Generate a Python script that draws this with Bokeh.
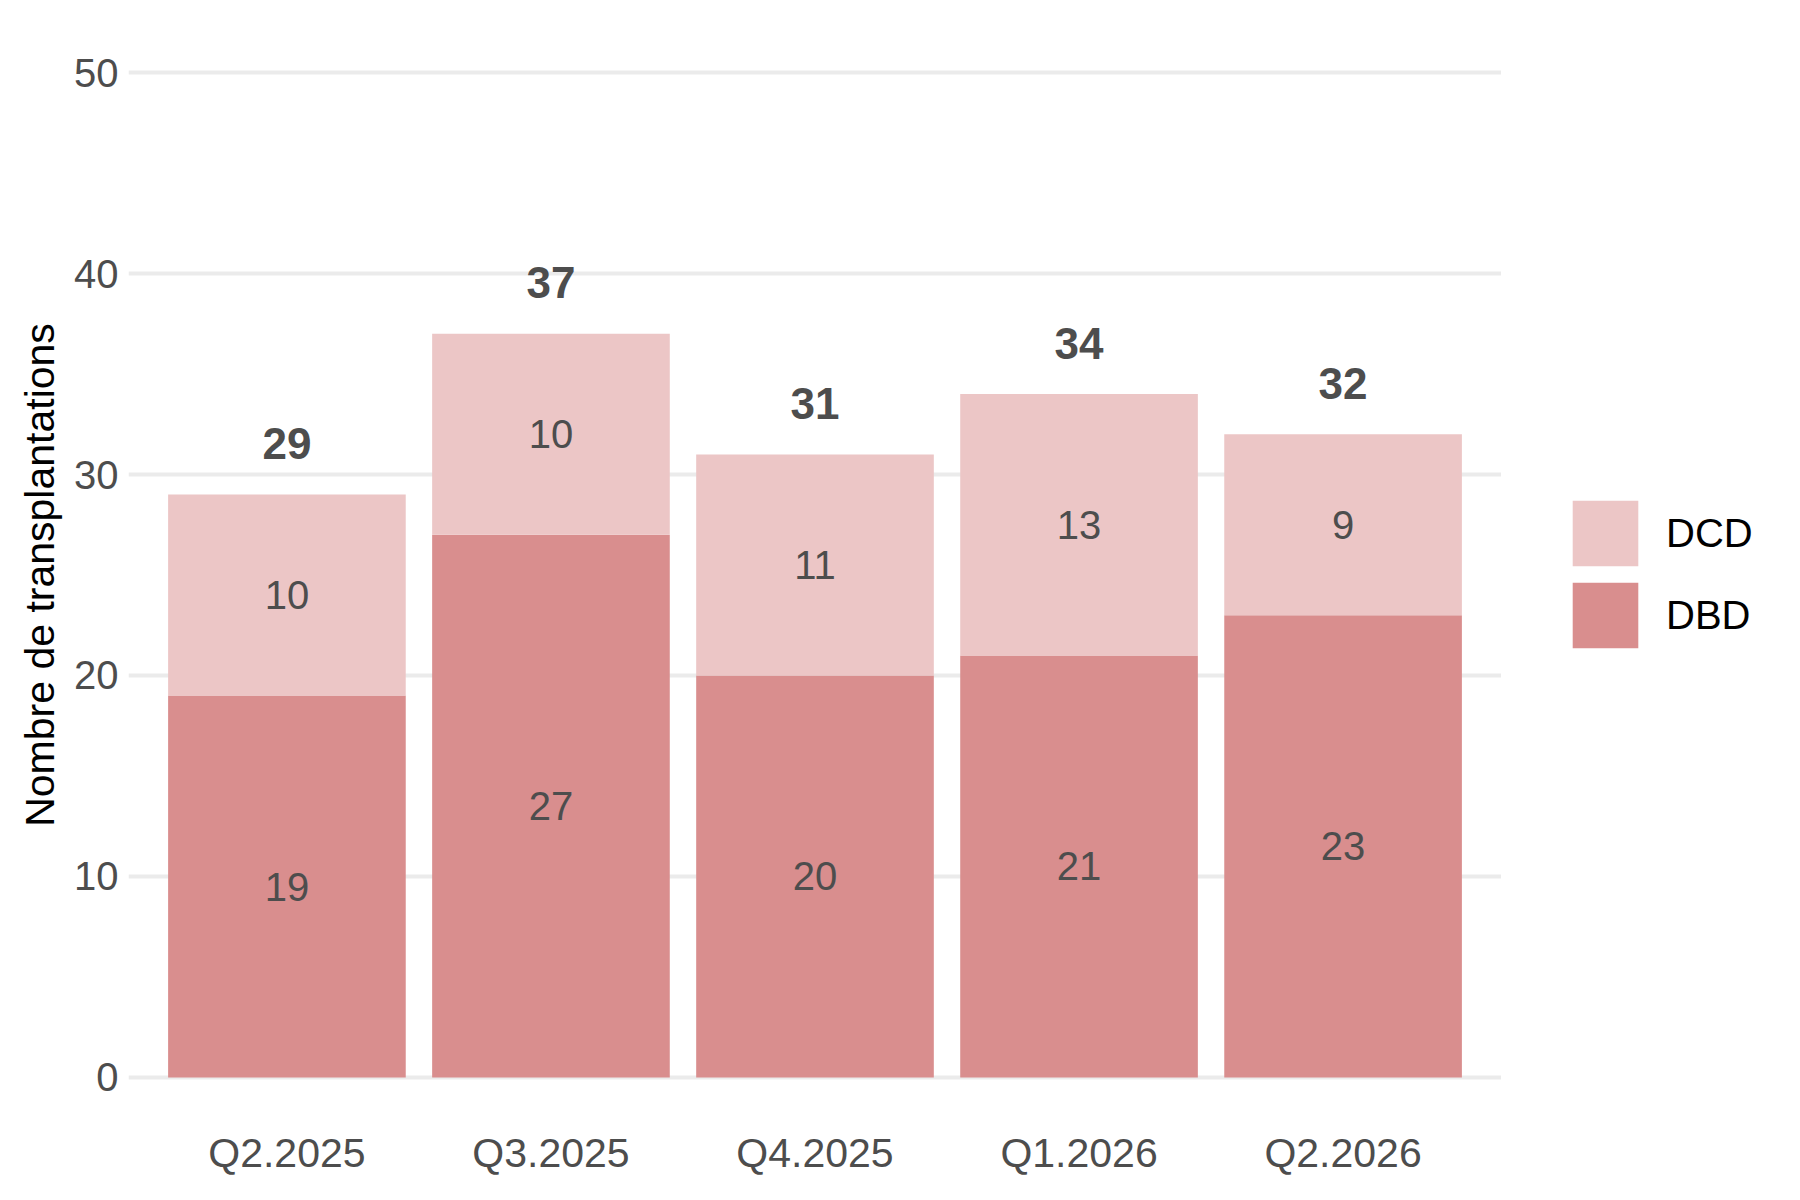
from bokeh.plotting import figure
from bokeh.layouts import row
from bokeh.models import ColumnDataSource, FactorRange, Range1d, Legend, LegendItem
from bokeh.core.properties import value
from bokeh.embed import file_html
from bokeh.resources import INLINE

# données : transplantations par trimestre
trimestres = ["Q2.2025", "Q3.2025", "Q4.2025", "Q1.2026", "Q2.2026"]
dbd = [19, 27, 20, 21, 23]
dcd = [10, 10, 11, 13, 9]
types = ["DBD", "DCD"]
couleurs = ["#D98E8E", "#ECC6C6"]
yticks = [0, 10, 20, 30, 40, 50]

total = [a + b for a, b in zip(dbd, dcd)]
source = ColumnDataSource(dict(
    trimestre=trimestres,
    DBD=dbd,
    DCD=dcd,
    total=total,
    mid_dbd=[a / 2 for a in dbd],
    mid_dcd=[a + b / 2 for a, b in zip(dbd, dcd)],
    lab_dbd=[str(a) for a in dbd],
    lab_dcd=[str(b) for b in dcd],
    lab_tot=[str(t) for t in total],
))

police = "Liberation Sans"

p = figure(x_range=FactorRange(*trimestres, range_padding=0.1, range_padding_units="absolute"),
           y_range=Range1d(-0.5, 50.5),
           width=1501, height=1184,
           output_backend="svg", toolbar_location=None,
           min_border_left=128, min_border_right=0,
           min_border_top=62, min_border_bottom=97)

barres = p.vbar_stack(types, x="trimestre", width=0.9, fill_color=couleurs,
                      line_color=None, source=source)

# étiquettes des segments
for col_y, col_t in [("mid_dbd", "lab_dbd"), ("mid_dcd", "lab_dcd")]:
    p.text(x="trimestre", y=col_y, text=col_t, source=source,
           text_font=value(police), text_font_size="40px", text_color="#4D4D4D",
           text_align="center", text_baseline="middle")

# totaux au-dessus des barres
p.text(x="trimestre", y="total", text="lab_tot", source=source,
       text_font=value(police), text_font_size="44px", text_font_style="bold",
       text_color="#4D4D4D", text_align="center", text_baseline="middle", y_offset=-51)

p.xgrid.grid_line_color = None
p.ygrid.grid_line_color = "#EBEBEB"
p.ygrid.grid_line_width = 4
p.yaxis.ticker = yticks
p.outline_line_color = None

for ax in [p.xaxis[0], p.yaxis[0]]:
    ax.axis_line_color = None
    ax.major_tick_line_color = None
    ax.minor_tick_line_color = None
    ax.major_label_text_font = police
    ax.major_label_text_font_size = "40px"
    ax.major_label_text_color = "#4D4D4D"

p.xaxis.major_label_text_font_size = "41px"
p.xaxis.major_label_standoff = 36
p.yaxis.major_label_standoff = 4
p.yaxis.axis_label = "Nombre de transplantations"
p.yaxis.axis_label_text_font = police
p.yaxis.axis_label_text_font_size = "41px"
p.yaxis.axis_label_text_font_style = "normal"
p.yaxis.axis_label_text_color = "black"
p.yaxis.axis_label_standoff = 8

# légende dans une figure à part, à droite (barres de largeur nulle, seule la légende se voit)
pl = figure(width=283, height=1184, x_range=FactorRange(*trimestres), y_range=Range1d(-2, -1),
            output_backend="svg", toolbar_location=None,
            x_axis_location=None, y_axis_location=None, min_border=0)
pl.grid.grid_line_color = None
pl.outline_line_color = None
cles = pl.vbar_stack(types, x="trimestre", width=0, fill_color=couleurs,
                     line_color=None, source=source)

legende = Legend(items=[LegendItem(label=types[1], renderers=[cles[1]]),
                        LegendItem(label=types[0], renderers=[cles[0]])],
                 location=(63, 431), orientation="vertical",
                 padding=0, margin=0, spacing=0,
                 glyph_width=82, glyph_height=82, label_standoff=20,
                 label_text_font=police, label_text_font_size="40px",
                 label_text_color="black", label_text_baseline="middle",
                 border_line_color=None, background_fill_alpha=0)
pl.add_layout(legende)

open("out.html", "w").write(file_html(row(p, pl), INLINE))
